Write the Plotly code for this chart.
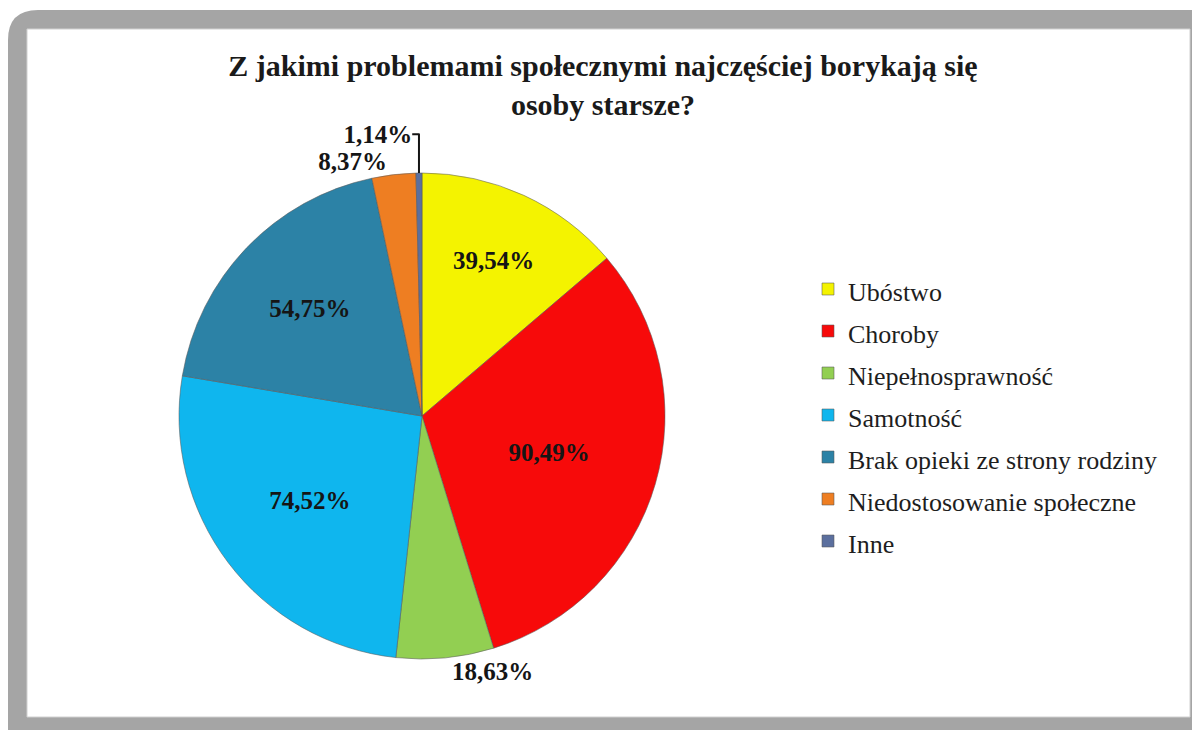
import plotly.graph_objects as go

categories = ["Ubóstwo", "Choroby", "Niepełnosprawność", "Samotność",
              "Brak opieki ze strony rodziny", "Niedostosowanie społeczne", "Inne"]
values = [39.54, 90.49, 18.63, 74.52, 54.75, 8.37, 1.14]
colors = ["#F4F300", "#F70A0A", "#92CF52", "#0FB6EE", "#2C82A6", "#EE7E22", "#5B6F9E"]
text_pos = ["inside", "inside", "outside", "inside", "inside", "outside", "outside"]
value_labels = [f"{v:.2f}".replace(".", ",") + "%" for v in values]

# page body adds an 8px margin, so figure is 1192x722 placed at (8, 8)
OFF = 8
W, H = 1200 - OFF, 730 - OFF


def px(x):
    return (x - OFF) / W


def py(y):
    return 1 - (y - OFF) / H


legend_labels = [f"<span style='font-size:26px'>{c}</span>" for c in categories]

fig = go.Figure(go.Pie(
    labels=legend_labels,
    values=values,
    text=value_labels,
    texttemplate="%{text}",
    textposition=text_pos,
    insidetextorientation="horizontal",
    sort=False,
    direction="clockwise",
    rotation=0,
    marker=dict(colors=colors, line=dict(color="rgba(90,90,90,0.55)", width=1)),
    textfont=dict(family="Liberation Serif", size=25, color="#151515", weight="bold"),
    outsidetextfont=dict(family="Liberation Serif", size=25, color="#151515", weight="bold"),
    domain=dict(x=[px(422 - 243), px(422 + 243)], y=[py(416 + 243), py(416 - 243)]),
    hoverinfo="label+value",
))

shapes = [
    dict(type="path", xref="paper", yref="paper",
         path=(f"M {px(8)},{py(40)} Q {px(8)},{py(10)} {px(38)},{py(10)} "
               f"L {px(1215)},{py(10)} L {px(1215)},{py(745)} L {px(8)},{py(745)} Z"),
         fillcolor="#A5A5A5", line=dict(width=0), layer="below"),
    dict(type="rect", xref="paper", yref="paper",
         x0=px(27), x1=px(1190), y0=py(717), y1=py(29),
         fillcolor="#FFFFFF", line=dict(color="#D0D0D0", width=1), layer="below"),
]

fig.update_layout(
    width=W, height=H,
    margin=dict(l=0, r=0, t=0, b=0),
    paper_bgcolor="white",
    plot_bgcolor="white",
    shapes=shapes,
    title=dict(
        text="Z jakimi problemami społecznymi najczęściej borykają się<br>osoby starsze?",
        x=px(603), xanchor="center", xref="paper",
        y=py(76), yanchor="top", yref="container",
        font=dict(family="Liberation Serif", size=30, color="#1a1a1a", weight="bold"),
    ),
    showlegend=True,
    legend=dict(
        x=px(808), xanchor="left", y=py(263), yanchor="top",
        font=dict(family="Liberation Serif", size=30, color="#1e1e1e"),
        bgcolor="rgba(0,0,0,0)",
    ),
    uniformtext=dict(minsize=25, mode="show"),
)

fig.write_html("out.html")
